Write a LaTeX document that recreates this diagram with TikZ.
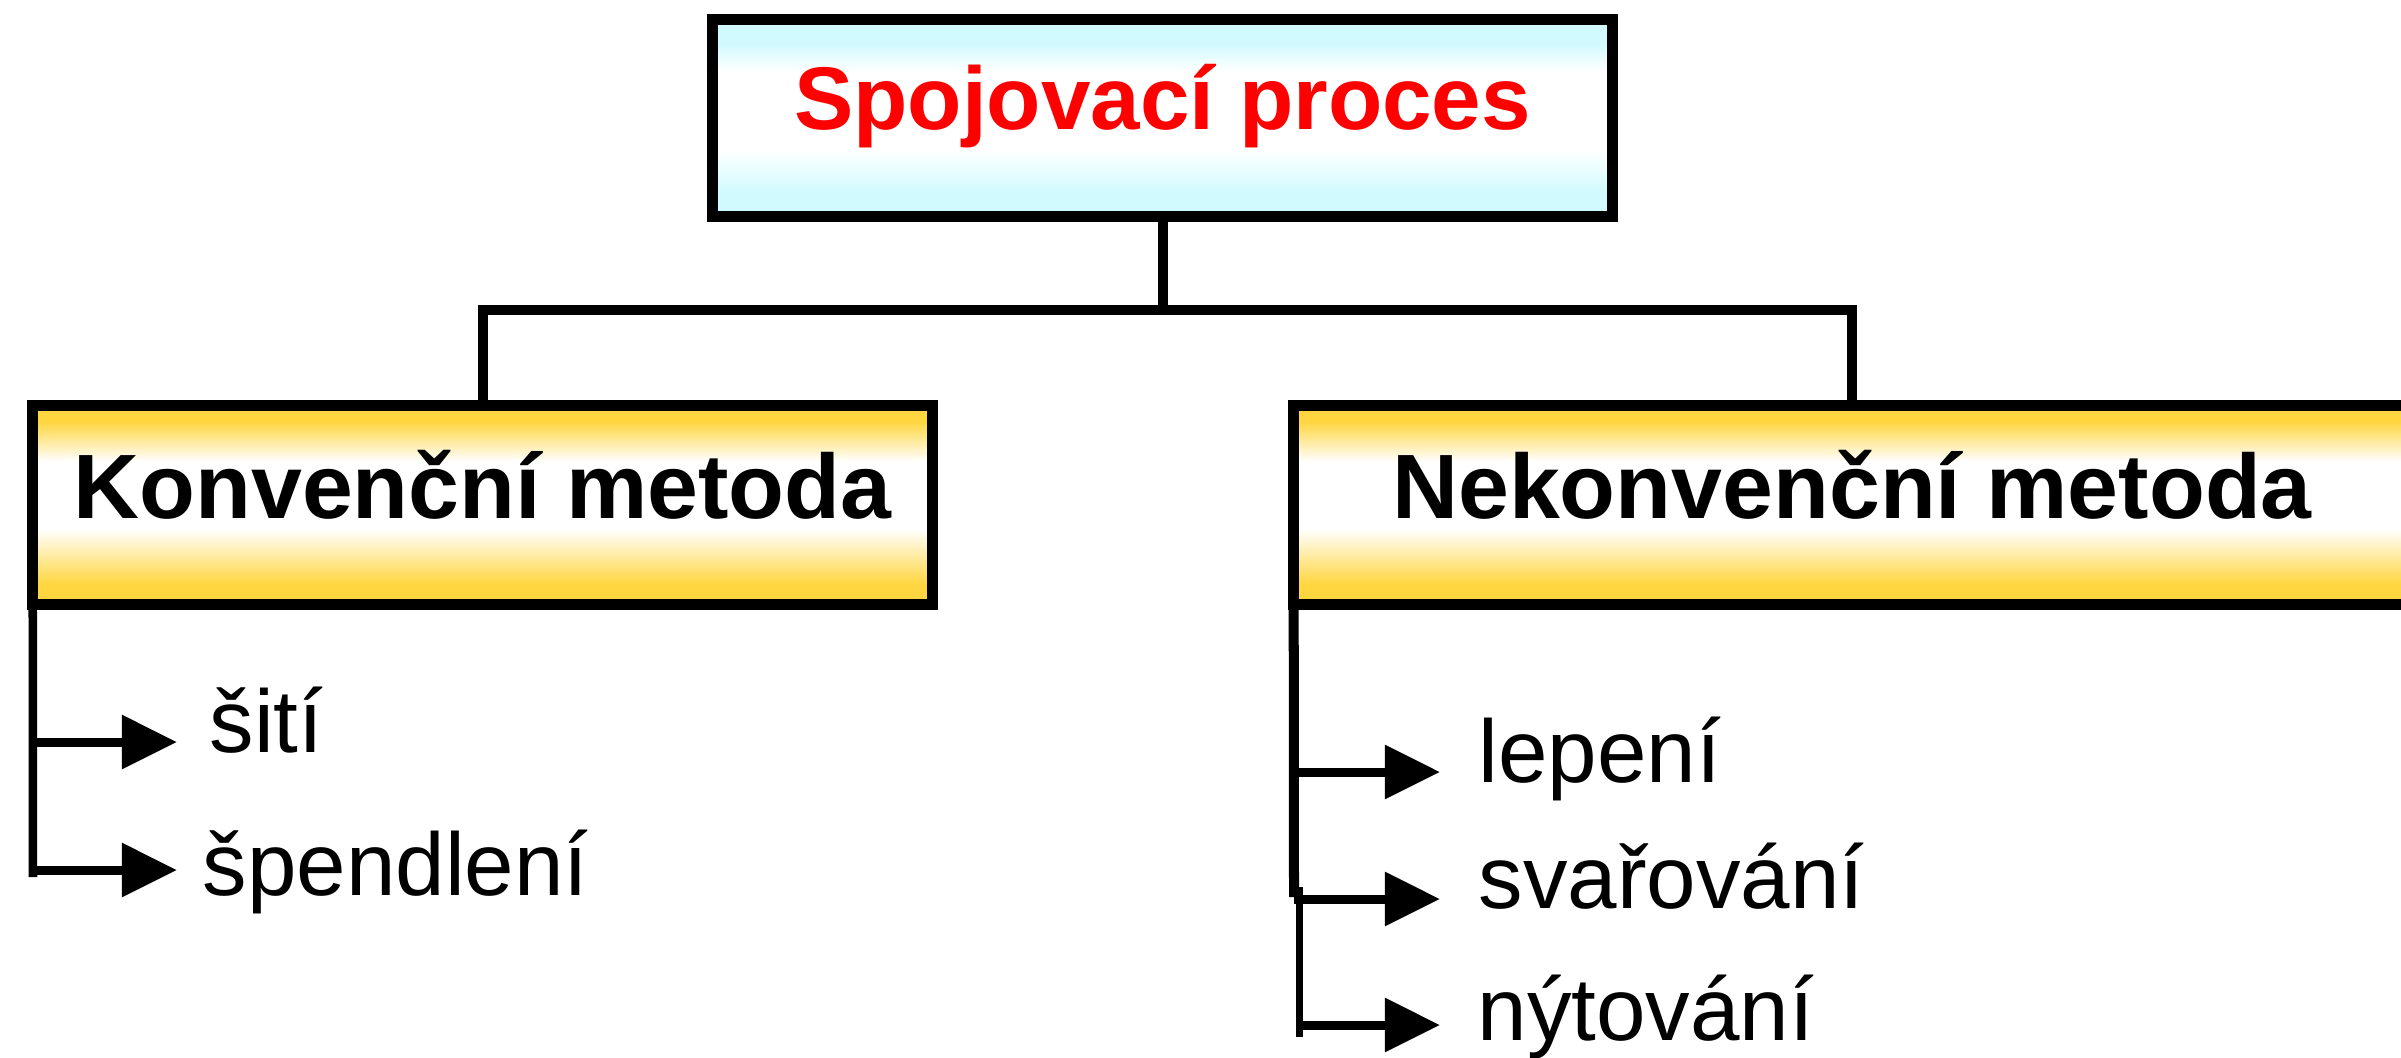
\documentclass[tikz,border=0pt]{standalone}
\usepackage{fontspec}
\setmainfont{Liberation Sans}
\usetikzlibrary{arrows.meta}
\definecolor{mygold}{RGB}{255,214,64}
\definecolor{icecyan}{RGB}{208,250,255}
\definecolor{titlered}{RGB}{255,0,0}
\pgfdeclareverticalshading{goldband}{100bp}{color(0bp)=(mygold); color(30bp)=(mygold); color(44bp)=(white); color(61bp)=(white); color(71bp)=(mygold); color(100bp)=(mygold)}
\pgfdeclareverticalshading{cyanband}{100bp}{color(0bp)=(icecyan); color(31bp)=(icecyan); color(42bp)=(white); color(62bp)=(white); color(69bp)=(icecyan); color(100bp)=(icecyan)}
\begin{document}
\begin{tikzpicture}[x=0.01cm,y=-0.01cm,
  basebox/.style={draw=black, line width=0.11cm, outer sep=0pt, inner sep=0pt, shade},
  topbox/.style={basebox, shading=cyanband, text=titlered, text height=0.22cm, text depth=0cm,
    font=\fontsize{25.3}{30}\selectfont\bfseries},
  methodbox/.style={basebox, shading=goldband, text height=0.26cm, text depth=0cm,
    font=\fontsize{26}{30}\selectfont\bfseries},
  conn/.style={draw=black, line width=0.1cm},
  lbl/.style={inner sep=0pt, anchor=base west, font=\fontsize{25.3}{30}\selectfont},
  arr/.style={draw=black, line width=0.09cm, -{Triangle[length=0.55cm,width=0.52cm]}},
]
\useasboundingbox[fill=white] (0,0) rectangle (2401,1057);

% boxes
\node[topbox, minimum width=8.99cm, minimum height=1.96cm] (T) at (1162.5,118) {Spojovací proces};
\node[methodbox, minimum width=8.99cm, minimum height=1.98cm] (L) at (482.5,505) {Konvenční metoda};
\node[methodbox, minimum width=11.16cm, minimum height=1.98cm] (R) at (1852,505) {Nekonvenční metoda};

% tree connectors
\coordinate (J) at (1162.5,310);
\draw[conn] (T.south) -- (J);
\draw[conn] (L.north) |- (J) -| (R.north);

% labels
\node[lbl] (k1) at (209,752) {šití};
\node[lbl] (k2) at (202,895) {špendlení};
\node[lbl] (n1) at (1478,782) {lepení};
\node[lbl] (n2) at (1478,908) {svařování};
\node[lbl] (n3) at (1477,1040) {nýtování};

% left bracket
\coordinate (Lend) at (33,877);
\draw[draw=black, line width=0.085cm] (L.south west) -- (Lend);
\coordinate (ka1) at (33,742);
\coordinate (ka2) at (33,870);
\draw[arr, shorten >=0.32cm] (ka1) -- (ka1 -| k1.west);
\draw[arr, shorten >=0.25cm] (ka2) -- (ka2 -| k2.west);

% right bracket
\coordinate (Rmid) at (1294,897);
\coordinate (Rmid2) at (1299,887);
\coordinate (Rend) at (1299,1037);
\draw[draw=black, line width=0.1cm] (R.south west) -- (Rmid);
\draw[draw=black, line width=0.07cm] (Rmid2) -- (Rend);
\coordinate (na1) at (1294,772);
\coordinate (na2) at (1294,899);
\coordinate (na3) at (1299,1025);
\draw[arr, shorten >=0.38cm] (na1) -- (na1 -| n1.west);
\draw[arr, shorten >=0.38cm] (na2) -- (na2 -| n2.west);
\draw[arr, shorten >=0.37cm] (na3) -- (na3 -| n3.west);
\end{tikzpicture}
\end{document}
